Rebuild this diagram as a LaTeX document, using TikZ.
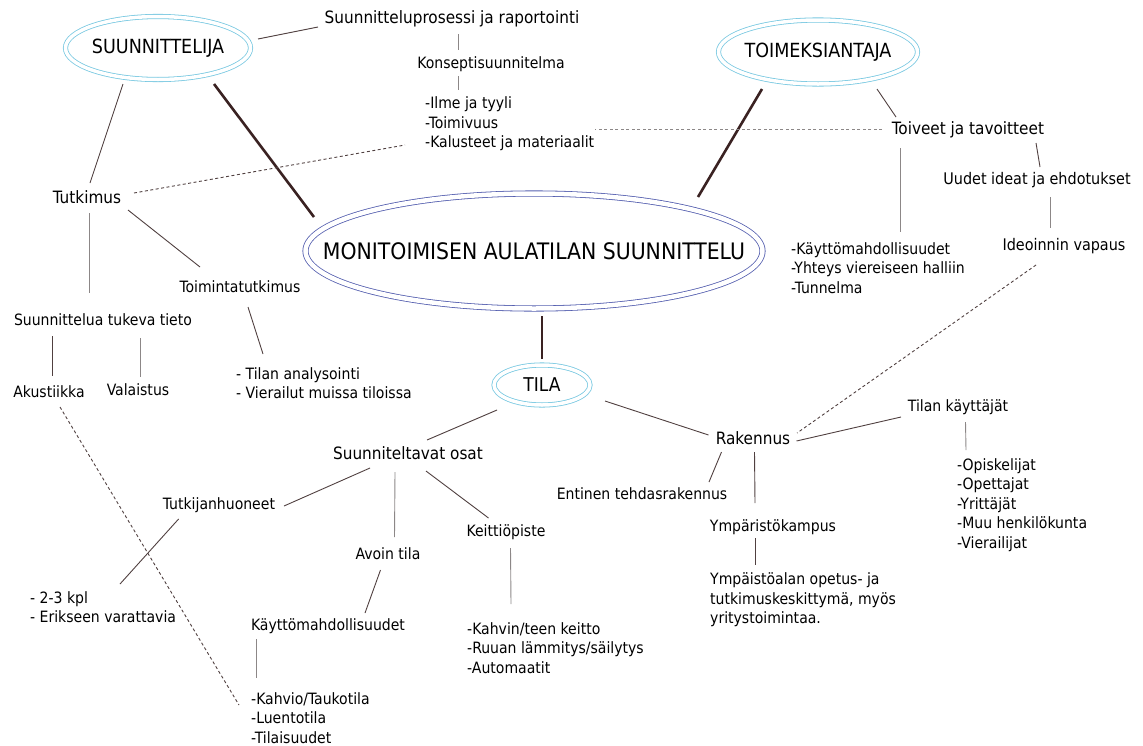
\documentclass[tikz,border=0pt]{standalone}
\usepackage{fontspec}
\setmainfont{DejaVu Sans Condensed}
\usetikzlibrary{shapes.geometric}
\definecolor{cyanring}{RGB}{120,200,225}
\definecolor{bluering}{RGB}{85,95,175}
\definecolor{linkdark}{RGB}{80,64,64}
\definecolor{linkgray}{RGB}{140,135,135}
\definecolor{thickc}{RGB}{58,34,34}
\tikzset{
  big/.style={inner sep=0pt, font=\fontsize{17}{20}\selectfont},
  mid/.style={inner sep=0pt, font=\fontsize{16}{20}\selectfont},
  small/.style={inner sep=0pt, font=\fontsize{15.6}{19.6}\selectfont},
  listbox/.style={inner sep=0pt, align=left, anchor=west, font=\fontsize{15.6}{19.6}\selectfont},
  ringc/.style={ellipse, draw=cyanring, double=white, double distance=3.5pt, line width=0.8pt, inner ysep=-5pt},
  ringb/.style={ellipse, draw=bluering, double=white, double distance=4.5pt, line width=0.8pt, inner ysep=-5pt},
  link/.style={draw=linkdark, line width=0.9pt},
  glink/.style={draw=linkgray, line width=0.9pt},
  dlink/.style={draw=linkdark, line width=0.9pt, dash pattern=on 3pt off 2.5pt},
  thick link/.style={draw=thickc, line width=2.6pt},
}
\begin{document}
\begin{tikzpicture}[x=1pt,y=-1pt]
\useasboundingbox (0,0) rectangle (1143,745);
% ellipses
\node[ringc, inner xsep=-30pt, minimum width=185pt, minimum height=63pt, font=\fontsize{19.5}{22}\selectfont] (suun) at (158,48) {SUUNNITTELIJA};
\node[ringc, inner xsep=-30pt, minimum width=199pt, minimum height=64pt, font=\fontsize{19.5}{22}\selectfont] (toim) at (818,52) {TOIMEKSIANTAJA};
\node[ringb, inner xsep=-80pt, minimum width=457pt, minimum height=115pt, font=\fontsize{22.7}{26}\selectfont] (main) at (534,251) {MONITOIMISEN AULATILAN SUUNNITTELU};
\node[ringc, inner xsep=-10pt, minimum width=96pt, minimum height=40pt, font=\fontsize{19}{22}\selectfont] (tila) at (542,385) {TILA};
% text nodes
\node[big] (proc) at (452,19) {Suunnitteluprosessi ja raportointi};
\node[small] (konsepti) at (491,64) {Konseptisuunnitelma};
\node[listbox] (ilme) at (425,124) {-Ilme ja tyyli\\-Toimivuus\\-Kalusteet ja materiaalit};
\node[big] (tutk) at (87,197) {Tutkimus};
\node[big] (toiveet) at (968,130) {Toiveet ja tavoitteet};
\node[listbox] (kaytto1) at (791,268) {-Käyttömahdollisuudet\\-Yhteys viereiseen halliin\\-Tunnelma};
\node[mid] (uudet) at (1037,180) {Uudet ideat ja ehdotukset};
\node[mid] (ideo) at (1064,246) {Ideoinnin vapaus};
\node[big] (rak) at (753,438) {Rakennus};
\node[small] (tilank) at (958,407) {Tilan käyttäjät};
\node[listbox] (users) at (957,505) {-Opiskelijat\\-Opettajat\\-Yrittäjät\\-Muu henkilökunta\\-Vierailijat};
\node[small] (entinen) at (642,494) {Entinen tehdasrakennus};
\node[small] (ympk) at (773,527) {Ympäristökampus};
\node[listbox] (ympt) at (710,600) {Ympäistöalan opetus- ja\\tutkimuskeskittymä, myös\\yritystoimintaa.};
\node[small] (suunnit) at (103,320) {Suunnittelua tukeva tieto};
\node[small] (toiminta) at (240,287) {Toimintatutkimus};
\node[listbox] (tilanlist) at (236,383) {- Tilan analysointi\\- Vierailut muissa tiloissa};
\node[small] (akus) at (49,392) {Akustiikka};
\node[small] (val) at (138,390) {Valaistus};
\node[big] (osat) at (408,453) {Suunniteltavat osat};
\node[small] (tutkijan) at (219,505) {Tutkijanhuoneet};
\node[listbox] (kpl) at (30,607) {- 2-3 kpl\\- Erikseen varattavia};
\node[small] (avoin) at (388,554) {Avoin tila};
\node[small] (kaytto2) at (328,626) {Käyttömahdollisuudet};
\node[listbox] (kahvio) at (251,718) {-Kahvio/Taukotila\\-Luentotila\\-Tilaisuudet};
\node[small] (keittio) at (506,532) {Keittiöpiste};
\node[listbox] (kahvin) at (467,648) {-Kahvin/teen keitto\\-Ruuan lämmitys/säilytys\\-Automaatit};
\coordinate (dashend) at ([shift={(170,5)}]ilme.west);
% connectors
\draw[link] ([shift={(100,-9)}]suun.center) -- ([shift={(-134,8)}]proc.center);
\draw[glink] ([shift={(6,15)}]proc.center) -- ([shift={(-33,-14)}]konsepti.center);
\draw[glink] ([shift={(-33,12)}]konsepti.center) -- ([shift={(33,-34)}]ilme.west);
\draw[thick link] ([shift={(56,36)}]suun.center) -- ([shift={(-220,-34)}]main.center);
\draw[link] ([shift={(-35,36)}]suun.center) -- ([shift={(3,-14)}]tutk.center);
\draw[dlink] ([shift={(47,-4)}]tutk.center) -- ([shift={(-20,21)}]ilme.west);
\draw[thick link] ([shift={(-56,37)}]toim.center) -- ([shift={(164,-54)}]main.center);
\draw[link] ([shift={(59,37)}]toim.center) -- ([shift={(-72,-13)}]toiveet.center);
\draw[dlink, draw=linkgray] ([shift={(-86,-1)}]toiveet.center) -- (dashend);
\draw[glink] ([shift={(-67.5,18)}]toiveet.center) -- ([shift={(109.5,-36)}]kaytto1.west);
\draw[link] ([shift={(68,13)}]toiveet.center) -- ([shift={(3,-13)}]uudet.center);
\draw[glink] ([shift={(13,17)}]uudet.center) -- ([shift={(-14,-18)}]ideo.center);
\draw[dlink] ([shift={(-28,19)}]ideo.center) -- ([shift={(44,-5)}]rak.center);
\draw[thick link] ([shift={(8,65)}]main.center) -- ([shift={(0,-26)}]tila.center);
\draw[link] ([shift={(-45,25)}]tila.center) -- ([shift={(19,-13)}]osat.center);
\draw[link] ([shift={(63,16)}]tila.center) -- ([shift={(-44.5,-3)}]rak.center);
\draw[link] ([shift={(43.5,3)}]rak.center) -- ([shift={(-57,10)}]tilank.center);
\draw[glink] ([shift={(7.5,15)}]tilank.center) -- ([shift={(9,-55)}]users.west);
\draw[link] ([shift={(-31.5,14)}]rak.center) -- ([shift={(67,-12)}]entinen.center);
\draw[link] ([shift={(1.5,14)}]rak.center) -- ([shift={(-18,-24)}]ympk.center);
\draw[link] ([shift={(-18,11)}]ympk.center) -- ([shift={(45,-35)}]ympt.west);
\draw[glink] ([shift={(2,16)}]tutk.center) -- ([shift={(-14,-27)}]suunnit.center);
\draw[link] ([shift={(41,13)}]tutk.center) -- ([shift={(-40,-20)}]toiminta.center);
\draw[link] ([shift={(8,20)}]toiminta.center) -- ([shift={(27,-29)}]tilanlist.west);
\draw[link] ([shift={(-51,16)}]suunnit.center) -- ([shift={(3,-16)}]akus.center);
\draw[glink] ([shift={(37,18)}]suunnit.center) -- ([shift={(2,-13)}]val.center);
\draw[dlink] ([shift={(11,15)}]akus.center) -- ([shift={(-12,-13)}]kahvio.west);
\draw[link] ([shift={(-38,15)}]osat.center) -- ([shift={(65,1)}]tutkijan.center);
\draw[link] ([shift={(-40.4,14)}]tutkijan.center) -- ([shift={(90,-23)}]kpl.west);
\draw[glink] ([shift={(-13,19)}]osat.center) -- ([shift={(6.5,-17)}]avoin.center);
\draw[link] ([shift={(-7.5,16)}]avoin.center) -- ([shift={(37,-13)}]kaytto2.center);
\draw[glink] ([shift={(-72,13)}]kaytto2.center) -- ([shift={(5,-40)}]kahvio.west);
\draw[link] ([shift={(18,18)}]osat.center) -- ([shift={(-17.5,-14)}]keittio.center);
\draw[glink] ([shift={(4.5,16)}]keittio.center) -- ([shift={(44,-44)}]kahvin.west);
\end{tikzpicture}
\end{document}
